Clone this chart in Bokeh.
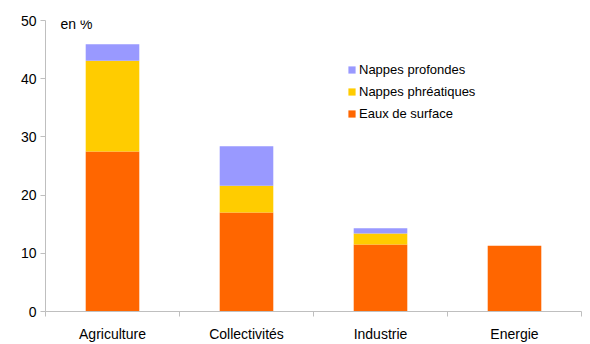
from bokeh.plotting import figure
from bokeh.models import FixedTicker, Legend, LegendItem, Label, Range1d, ColumnDataSource
from bokeh.embed import file_html
from bokeh.resources import INLINE

categories = ["Agriculture", "Collectivités", "Industrie", "Energie"]
eaux_surface = [27.5, 17.0, 11.5, 11.3]
nappes_phreatiques = [15.6, 4.6, 1.9, 0.0]
nappes_profondes = [2.8, 6.8, 0.9, 0.0]
series_names = ["Eaux de surface", "Nappes phréatiques", "Nappes profondes"]
colors = ["#FF6600", "#FFCC00", "#9999FF"]
y_ticks = [0, 10, 20, 30, 40, 50]

FONT = "Liberation Sans"

xs = [i + 0.5 for i in range(len(categories))]
src = ColumnDataSource(dict(x=xs, s1=eaux_surface, s2=nappes_phreatiques, s3=nappes_profondes))

p = figure(width=590, height=344, output_backend="svg", toolbar_location=None,
           x_range=Range1d(0, len(categories)), y_range=Range1d(0, 50),
           min_border_left=45, min_border_right=9, min_border_top=20, min_border_bottom=33)
p.outline_line_color = None
p.xgrid.visible = False
p.ygrid.visible = False

renderers = p.vbar_stack(["s1", "s2", "s3"], x="x", width=0.4, color=colors,
                         line_color=None, source=src)

# axes
p.yaxis.ticker = FixedTicker(ticks=y_ticks)
p.yaxis.axis_line_color = "#BFBFBF"
p.yaxis.major_tick_line_color = "#BFBFBF"
p.yaxis.major_tick_out = 5
p.yaxis.major_tick_in = 0
p.yaxis.minor_tick_line_color = None
p.yaxis.major_label_text_font = FONT
p.yaxis.major_label_text_font_size = "14px"
p.yaxis.major_label_text_color = "#000000"
p.yaxis.major_label_standoff = 4

p.xaxis.ticker = FixedTicker(ticks=xs, minor_ticks=list(range(len(categories) + 1)))
p.xaxis.major_label_overrides = {x: c for x, c in zip(xs, categories)}
p.xaxis.axis_line_color = "#BFBFBF"
p.xaxis.major_tick_line_color = None
p.xaxis.minor_tick_line_color = "#BFBFBF"
p.xaxis.minor_tick_out = 5
p.xaxis.minor_tick_in = 0
p.xaxis.major_label_text_font = FONT
p.xaxis.major_label_text_font_size = "14px"
p.xaxis.major_label_text_color = "#000000"
p.xaxis.major_label_standoff = 8

# legend (reverse order: top item is Nappes profondes)
items = [LegendItem(label=series_names[i], renderers=[renderers[i]]) for i in [2, 1, 0]]
legend = Legend(items=items, location=(302, 188), padding=0, margin=0,
                border_line_color=None, background_fill_alpha=0,
                glyph_width=9, glyph_height=9, label_height=20, spacing=2,
                label_standoff=3, label_text_font=FONT, label_text_font_size="13px",
                label_text_color="#000000")
p.add_layout(legend)

p.add_layout(Label(x=15, y=280, x_units="screen", y_units="screen", text="en %",
                   text_font=FONT, text_font_size="14px", text_color="#000000"))

open("out.html", "w").write(file_html(p, INLINE))
